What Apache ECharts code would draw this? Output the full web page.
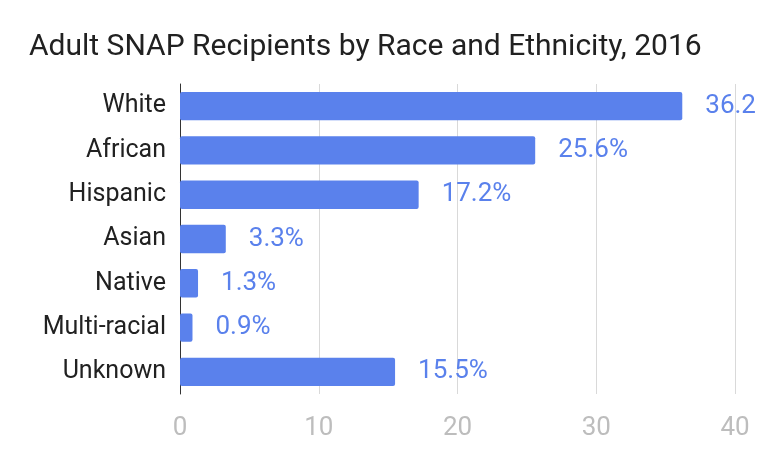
<!DOCTYPE html>
<html>
<head>
<meta charset="utf-8">
<script src="https://cdn.jsdelivr.net/npm/echarts@6/dist/echarts.min.js"></script>
<style>html,body{margin:0;padding:0;background:#fff}#c{width:757px;height:464px}</style>
</head>
<body>
<div id="c"></div>
<script>
const categories = ['White', 'African', 'Hispanic', 'Asian', 'Native', 'Multi-racial', 'Unknown'];
const values = [36.2, 25.6, 17.2, 3.3, 1.3, 0.9, 15.5];
const xTicks = [0, 10, 20, 30, 40];

const chart = echarts.init(document.getElementById('c'));
chart.setOption({
  backgroundColor: '#ffffff',
  animation: false,
  title: {
    text: 'Adult SNAP Recipients by Race and Ethnicity, 2016',
    left: 24, top: 27,
    textStyle: { fontFamily: 'Roboto', fontSize: 30, fontWeight: 'normal', color: '#212121' }
  },
  grid: { left: 180, right: 22, top: 84, bottom: 70, containLabel: false },
  xAxis: {
    type: 'value', min: xTicks[0], max: xTicks[xTicks.length - 1], interval: 10,
    axisLine: { show: false }, axisTick: { show: false },
    splitLine: { lineStyle: { color: '#d9d9d9', width: 1 } },
    axisLabel: { fontFamily: 'Roboto', fontSize: 26, color: '#bdbdbd', margin: 21 }
  },
  yAxis: {
    type: 'category', data: categories, inverse: true,
    axisLine: { show: true, lineStyle: { color: '#333', width: 1 } },
    axisTick: { show: false },
    axisLabel: { fontFamily: 'Roboto', fontSize: 25, color: '#212121', margin: 14 }
  },
  series: [{
    type: 'bar', data: values, barCategoryGap: '36%',
    itemStyle: { color: '#5a81ec', borderRadius: 2 },
    label: {
      show: true, position: 'right', distance: 23,
      formatter: p => p.value + '%',
      fontFamily: 'Roboto', fontSize: 26, color: '#5a81ec'
    }
  }]
});
</script>
</body>
</html>
